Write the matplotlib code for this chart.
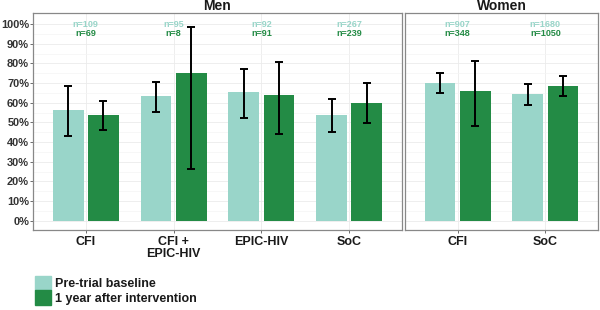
import numpy as np
import matplotlib.pyplot as plt
from matplotlib.patches import Patch

plt.rcParams['font.family'] = ['Liberation Sans', 'DejaVu Sans']

# values (percent)
men_cats = ["CFI", "CFI +\nEPIC-HIV", "EPIC-HIV", "SoC"]
men_base = [56.2, 63.2, 65.4, 53.6]
men_base_lo = [43.0, 55.5, 52.0, 45.1]
men_base_hi = [68.5, 70.7, 77.0, 61.9]
men_int = [53.5, 75.2, 64.0, 60.0]
men_int_lo = [46.0, 26.5, 44.0, 49.8]
men_int_hi = [61.0, 98.5, 80.8, 70.2]
men_n_base = [109, 95, 92, 267]
men_n_int = [69, 8, 91, 239]

women_cats = ["CFI", "SoC"]
women_base = [69.8, 64.3]
women_base_lo = [64.8, 59.0]
women_base_hi = [75.1, 69.7]
women_int = [65.9, 68.5]
women_int_lo = [48.1, 63.2]
women_int_hi = [81.2, 73.7]
women_n_base = [907, 1680]
women_n_int = [348, 1050]

light = "#99d5c9"
dark = "#238b45"
labels = ["Pre-trial baseline", "1 year after intervention"]

fig = plt.figure(figsize=(6, 3.1), dpi=100)
W, H = 600, 310
bottom = 1 - 230 / H
top = 1 - 13 / H
ax_men = fig.add_axes([33 / W, bottom, 369 / W, top - bottom])
ax_wom = fig.add_axes([405 / W, bottom, 193 / W, top - bottom])


def panel(ax, cats, base, blo, bhi, inter, ilo, ihi, nb, ni, title, show_y):
    x = np.arange(1, len(cats) + 1)
    bw = 0.35
    ax.bar(x - 0.2, base, bw, color=light, zorder=2)
    ax.bar(x + 0.2, inter, bw, color=dark, zorder=2)
    for xs, v, lo, hi in [(x - 0.2, base, blo, bhi), (x + 0.2, inter, ilo, ihi)]:
        v = np.array(v)
        err = [v - np.array(lo), np.array(hi) - v]
        ax.errorbar(xs, v, yerr=err, fmt='none', ecolor='black',
                    elinewidth=1.4, capsize=3.2, capthick=1.4, zorder=3)
    for xi, a, b in zip(x, nb, ni):
        ax.text(xi, 100, f"n={a}", ha='center', va='center', fontsize=6.5,
                color=light, fontweight='bold')
        ax.text(xi, 95.3, f"n={b}", ha='center', va='center', fontsize=6.5,
                color=dark, fontweight='bold')
    ax.set_xlim(0.4, len(cats) + 0.6)
    ax.set_ylim(-4.7, 105.6)
    ax.set_xticks(x)
    ax.set_xticklabels(cats, fontsize=9, fontweight='bold', color='#1a1a1a',
                       linespacing=1.0)
    ax.set_yticks(np.arange(0, 101, 10))
    ax.set_yticks(np.arange(5, 100, 10), minor=True)
    if show_y:
        ax.set_yticklabels([f"{v}%" for v in range(0, 101, 10)],
                           fontsize=7.9, fontweight='bold', color='#333333')
    else:
        ax.set_yticklabels([])
    ax.tick_params(axis='both', which='major', length=2, width=0.6,
                   color='#555555', pad=0.8)
    ax.tick_params(axis='y', which='minor', length=0)
    ax.tick_params(axis='x', pad=2)
    if not show_y:
        ax.tick_params(axis='y', which='major', length=0)
    ax.grid(True, which='major', color='#ebebeb', linewidth=0.6, zorder=0)
    ax.grid(True, which='minor', axis='y', color='#f4f4f4', linewidth=0.5, zorder=0)
    ax.set_axisbelow(True)
    for s in ax.spines.values():
        s.set_color('#888888')
        s.set_linewidth(0.9)
    ax.set_title(title, fontsize=10, fontweight='bold', pad=1.5, color='#1a1a1a')


panel(ax_men, men_cats, men_base, men_base_lo, men_base_hi, men_int,
      men_int_lo, men_int_hi, men_n_base, men_n_int, "Men", True)
panel(ax_wom, women_cats, women_base, women_base_lo, women_base_hi, women_int,
      women_int_lo, women_int_hi, women_n_base, women_n_int, "Women", False)

handles = [Patch(color=light), Patch(color=dark)]
leg = fig.legend(handles, labels, loc='upper left', bbox_to_anchor=(30 / W, 1 - 271 / H),
                 frameon=False, fontsize=9, handlelength=1.3, handleheight=1.4,
                 handletextpad=0.3, labelspacing=0.0, borderaxespad=0)
for t in leg.get_texts():
    t.set_fontweight('bold')
    t.set_color('#1a1a1a')

fig.savefig("out.png", dpi=100)
